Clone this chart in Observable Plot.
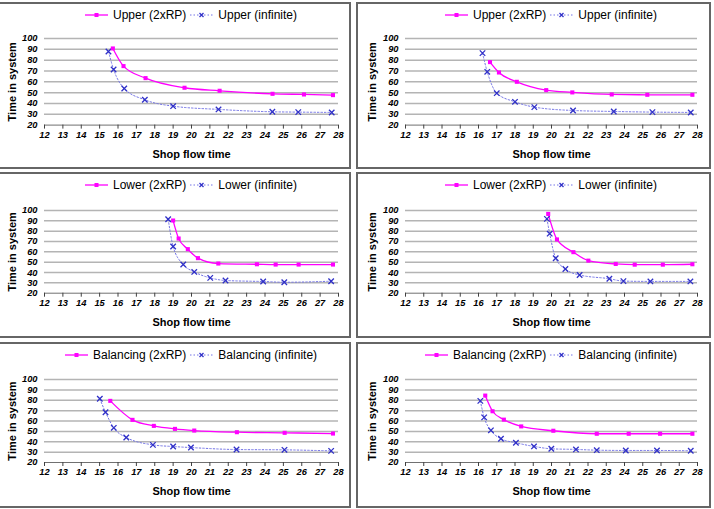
<!DOCTYPE html>
<html><head><meta charset="utf-8">
<script src="https://cdn.jsdelivr.net/npm/d3@7"></script>
<script src="https://cdn.jsdelivr.net/npm/@observablehq/plot@0.6"></script>
<style>
body{margin:0;background:#fff;font-family:"Liberation Sans",Arial,sans-serif;}
#wrap{position:relative;width:714px;height:509px;overflow:hidden;background:#fff;}
.panel{position:absolute;box-sizing:border-box;border:2px solid #666;background:#fff;}
.legend{height:22px;display:flex;justify-content:center;align-items:center;font-size:12px;color:#000;white-space:nowrap;box-sizing:border-box;}
.legend .item{display:flex;align-items:center;margin:0 2px;}
.legend svg{margin-right:5px;display:block;}
</style></head><body><div id="wrap"></div>
<script>
// ---- tick labels ----
const xTicks = [12,13,14,15,16,17,18,19,20,21,22,23,24,25,26,27,28];
const yTicks = [20,30,40,50,60,70,80,90,100];
const yGrid = [30,40,50,60,70,80,90,100];
const xTitle = "Shop flow time";
const yTitle = "Time in system";

// ---- panel 1: Upper (left) ----
const p1RpX  = [15.72,16.3,17.5,19.62,21.53,24.41,26.12,27.7];
const p1RpY  = [90.8,74.5,63.4,54.5,51.7,48.9,48.3,47.7];
const p1InfX = [15.48,15.76,16.34,17.46,19.0,21.47,24.4,25.81,27.63];
const p1InfY = [88,71.4,53.8,43.4,37.5,34.5,32.3,32,31.7];
// ---- panel 2: Upper (right) ----
const p2RpX  = [16.63,17.12,18.1,19.71,21.14,23.3,25.25,27.72];
const p2RpY  = [78.2,68.6,60,52.3,50.2,48.3,48,48];
const p2InfX = [16.22,16.48,17.0,18.0,19.06,21.18,23.41,25.53,27.63];
const p2InfY = [86.5,69.2,49.5,41.5,36.6,33.5,32.6,32,31.7];
// ---- panel 3: Lower (left) ----
const p3RpX  = [19.0,19.3,19.8,20.35,21.46,23.56,24.58,25.83,27.7];
const p3RpY  = [90.3,72.9,62.6,53.9,48.7,48,47.7,47.7,47.7];
const p3InfX = [18.73,19.0,19.55,20.15,21.02,21.85,23.9,25.05,27.6];
const p3InfY = [91.6,65.2,47.7,40.6,34.8,32.3,31.3,30.6,31.6];
// ---- panel 4: Lower (right) ----
const p4RpX  = [19.82,20.3,21.2,22.02,23.52,24.56,26.1,27.72];
const p4RpY  = [96.7,72,59.7,51.5,48.3,47.6,47.6,48];
const p4InfX = [19.75,19.9,20.23,20.76,21.54,23.17,23.94,25.42,27.61];
const p4InfY = [91.9,77.6,53.8,43.4,37.6,34,31.7,31.4,31.4];
// ---- panel 5: Balancing (left) ----
const p5RpX  = [15.58,16.79,17.95,19.1,20.15,22.47,25.07,27.7];
const p5RpY  = [79.4,61.1,55.3,52.4,50.8,49.2,48.6,47.9];
const p5InfX = [15.01,15.32,15.77,16.45,17.9,19.0,19.97,22.45,25.06,27.6];
const p5InfY = [81.4,68.5,53.4,44.1,37,35.4,34.4,32.5,32.2,31.2];
// ---- panel 6: Balancing (right) ----
const p6RpX  = [16.37,16.77,17.39,18.34,20.1,22.48,24.23,25.95,27.72];
const p6RpY  = [84.5,69.4,61.3,54.8,50.6,47.7,47.7,47.7,47.7];
const p6InfX = [16.1,16.31,16.68,17.23,18.05,19.04,19.99,21.34,22.48,24.07,25.78,27.63];
const p6InfY = [79.4,63.5,51,42.9,39,35.5,33.2,32.6,31.9,31.6,31.6,31.3];

const names = ["Upper","Upper","Lower","Lower","Balancing","Balancing"];
const series = [
  [p1RpX,p1RpY,p1InfX,p1InfY],[p2RpX,p2RpY,p2InfX,p2InfY],
  [p3RpX,p3RpY,p3InfX,p3InfY],[p4RpX,p4RpY,p4InfX,p4InfY],
  [p5RpX,p5RpY,p5InfX,p5InfY],[p6RpX,p6RpY,p6InfX,p6InfY]
];

const RP_COLOR = "#ff00ff", INF_LINE = "#7373e6", INF_MARK = "#3030c8";
const cols = [{left:-2,width:353,ml:44,mr:11},{left:356,width:355,ml:47,mr:12}];
const rows = [{top:2,height:167,mt:12,ph:86.6},{top:172,height:166,mt:14,ph:82.7},{top:342,height:166,mt:13,ph:83}];
const LEG_H = 22;

function swatch(kind){
  const ns="http://www.w3.org/2000/svg";
  const s=document.createElementNS(ns,"svg");
  s.setAttribute("width","23");s.setAttribute("height","10");
  if(kind==="rp"){
    s.innerHTML=`<line x1="0" y1="5" x2="23" y2="5" stroke="${RP_COLOR}" stroke-width="1.3"/><rect x="9.5" y="3" width="4" height="4" fill="${RP_COLOR}"/>`;
  } else {
    s.innerHTML=`<line x1="0" y1="5" x2="23" y2="5" stroke="${INF_LINE}" stroke-width="1" stroke-dasharray="1.5,2"/><path d="M9.5,3L13.5,7M13.5,3L9.5,7" stroke="${INF_MARK}" stroke-width="1.3"/>`;
  }
  return s;
}

const wrap=document.getElementById("wrap");
series.forEach((ser,i)=>{
  const col=cols[i%2], row=rows[Math.floor(i/2)];
  const name=names[i];
  const [rx,ry,ix,iy]=ser;
  const rp=rx.map((x,k)=>({x,y:ry[k]}));
  const inf=ix.map((x,k)=>({x,y:iy[k]}));
  const panel=document.createElement("div");
  panel.className="panel";
  Object.assign(panel.style,{left:col.left+"px",top:row.top+"px",width:col.width+"px",height:row.height+"px"});
  const leg=document.createElement("div");
  leg.className="legend";
  leg.style.paddingLeft=col.ml+"px";leg.style.paddingRight=col.mr+"px";
  [["rp",name+" (2xRP)"],["inf",name+" (infinite)"]].forEach(([k,t])=>{
    const it=document.createElement("div");it.className="item";
    it.appendChild(swatch(k));
    const sp=document.createElement("span");sp.textContent=t;it.appendChild(sp);
    leg.appendChild(it);
  });
  panel.appendChild(leg);
  const W=col.width-4, H=row.height-4-LEG_H;
  const mb=H-row.mt-row.ph;
  const chart=Plot.plot({
    width:W,height:H,
    marginLeft:col.ml,marginRight:col.mr,marginTop:row.mt,marginBottom:mb,
    x:{domain:[12,28]},
    y:{domain:[20,100]},
    style:{fontFamily:'"Liberation Sans", Arial, sans-serif',fontSize:"9.3px",fontStyle:"italic",fontWeight:"bold",color:"#000",background:"transparent",overflow:"visible"},
    marks:[
      Plot.gridY(yGrid,{stroke:"#b4b4b4",strokeOpacity:1,strokeWidth:1.5}),
      Plot.ruleY([20],{stroke:"#707070",strokeWidth:1}),
      Plot.axisX(xTicks,{tickSize:4,tickPadding:2,fontWeight:"bold",fontStyle:"italic",label:null,stroke:"#404040"}),
      Plot.axisY(yTicks,{tickSize:0,tickPadding:7,fontWeight:"bold",fontStyle:"italic",label:null}),
      Plot.line(inf,{x:"x",y:"y",stroke:INF_LINE,strokeWidth:1,strokeDasharray:"1.5,2",curve:"monotone-x"}),
      Plot.line(rp,{x:"x",y:"y",stroke:RP_COLOR,strokeWidth:1.3,curve:"monotone-x"}),
      Plot.dot(inf,{x:"x",y:"y",symbol:"times",r:2.6,stroke:INF_MARK,strokeWidth:1.3}),
      Plot.dot(rp,{x:"x",y:"y",symbol:"square",r:2.3,fill:RP_COLOR}),
      Plot.text([yTitle],{frameAnchor:"left",dx:-(col.ml-12-(i%2)*2),rotate:-90,textAnchor:"middle",lineAnchor:"middle",fontWeight:"bold",fontStyle:"normal",fontSize:11}),
      Plot.text([xTitle],{frameAnchor:"bottom",dy:29,textAnchor:"middle",lineAnchor:"middle",fontWeight:"bold",fontStyle:"normal",fontSize:11})
    ]
  });
  panel.appendChild(chart);
  wrap.appendChild(panel);
});
</script>
</body></html>
